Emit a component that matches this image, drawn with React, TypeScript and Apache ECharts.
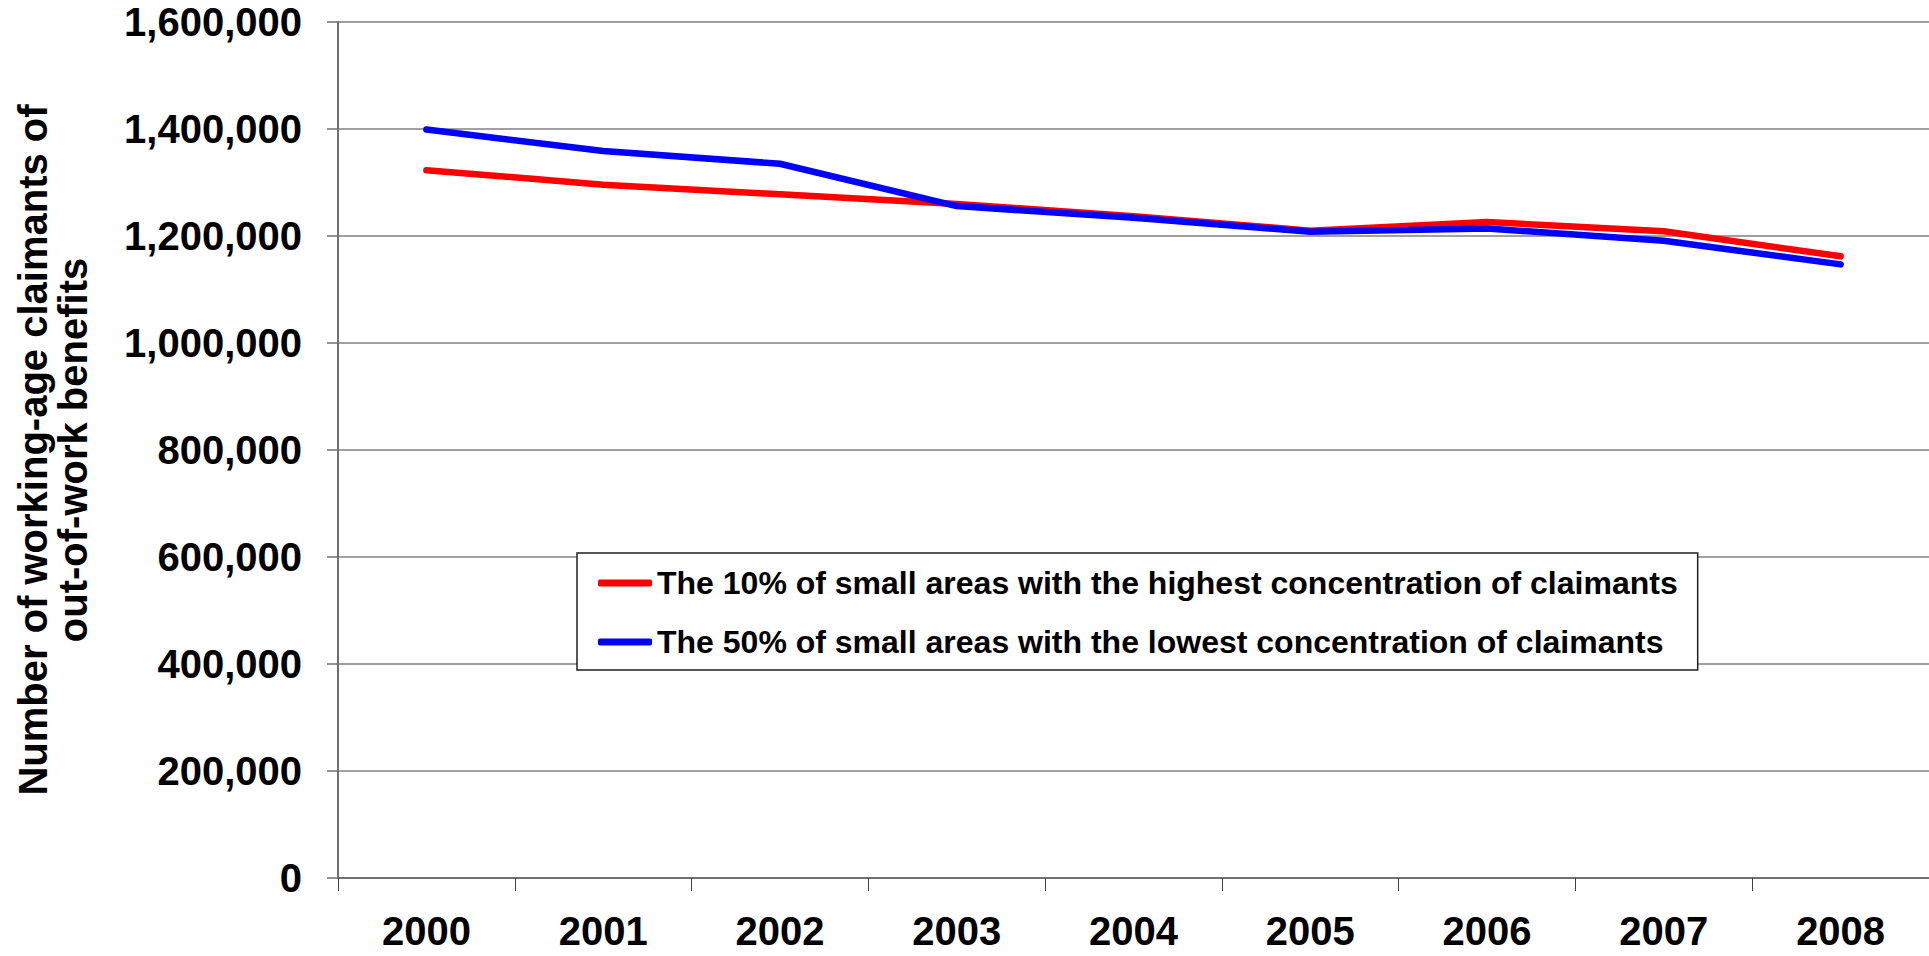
import React, { useEffect, useRef } from "react";
import * as echarts from "echarts";

const years = ["2000", "2001", "2002", "2003", "2004", "2005", "2006", "2007", "2008"];
const highestSeriesName = "The 10% of small areas with the highest concentration of claimants";
const lowestSeriesName = "The 50% of small areas with the lowest concentration of claimants";
const highestValues = [1323000, 1296000, 1278000, 1260000, 1237000, 1210000, 1226000, 1209000, 1162000];
const lowestValues = [1399000, 1359000, 1335000, 1256000, 1234000, 1208000, 1214000, 1191000, 1147000];
const yAxisTitle = "Number of working-age claimants of\nout-of-work benefits";

const FONT = "'Liberation Sans', Arial, sans-serif";

export default function App() {
  const ref = useRef<HTMLDivElement>(null);
  useEffect(() => {
    if (!ref.current) return;
    const chart = echarts.init(ref.current, undefined, { renderer: "svg" });
    chart.setOption({
      animation: false,
      backgroundColor: "#ffffff",
      grid: { left: 338, top: 22, width: 1593, height: 856, containLabel: false },
      legend: {
        orient: "vertical",
        left: 577,
        top: 553,
        padding: [10, 20, 8, 21],
        itemGap: 19,
        itemWidth: 54,
        itemHeight: 7,
        icon: "roundRect",
        backgroundColor: "#ffffff",
        borderColor: "#202020",
        borderWidth: 1.5,
        textStyle: {
          fontFamily: FONT,
          fontWeight: "bold",
          fontSize: 32,
          color: "#000",
          lineHeight: 40,
        },
        data: [highestSeriesName, lowestSeriesName],
      },
      xAxis: {
        type: "category",
        data: years,
        boundaryGap: true,
        axisLine: { show: true, lineStyle: { color: "#707070", width: 2 } },
        axisTick: { show: true, length: 13, alignWithLabel: false, lineStyle: { color: "#404040", width: 1 } },
        axisLabel: {
          margin: 35,
          fontFamily: FONT,
          fontWeight: "bold",
          fontSize: 40,
          lineHeight: 36,
          color: "#000",
          interval: 0,
        },
        splitLine: { show: false },
      },
      yAxis: {
        type: "value",
        min: 0,
        max: 1600000,
        interval: 200000,
        name: yAxisTitle,
        nameLocation: "middle",
        nameRotate: 90,
        nameGap: 245,
        nameTextStyle: {
          fontFamily: FONT,
          fontWeight: "bold",
          fontSize: 40,
          color: "#000",
          lineHeight: 40,
          align: "center",
        },
        axisLine: { show: true, lineStyle: { color: "#707070", width: 2 } },
        axisTick: { show: true, length: 11, lineStyle: { color: "#707070", width: 1.5 } },
        axisLabel: {
          margin: 36,
          fontFamily: FONT,
          fontWeight: "bold",
          fontSize: 40,
          color: "#000",
          formatter: (v: number) => v.toLocaleString("en-US"),
        },
        splitLine: { show: true, lineStyle: { color: "#808080", width: 1.5 } },
      },
      series: [
        {
          name: highestSeriesName,
          type: "line",
          data: highestValues,
          symbol: "none",
          itemStyle: { color: "#ff0000" },
          lineStyle: { color: "#ff0000", width: 6.5, cap: "round", join: "round" },
        },
        {
          name: lowestSeriesName,
          type: "line",
          data: lowestValues,
          symbol: "none",
          itemStyle: { color: "#0000ff" },
          lineStyle: { color: "#0000ff", width: 6.5, cap: "round", join: "round" },
        },
      ],
    });
    return () => chart.dispose();
  }, []);
  return (
    <div
      ref={ref}
      style={{ position: "absolute", left: 0, top: 0, width: 1929, height: 956, background: "#fff" }}
    />
  );
}
